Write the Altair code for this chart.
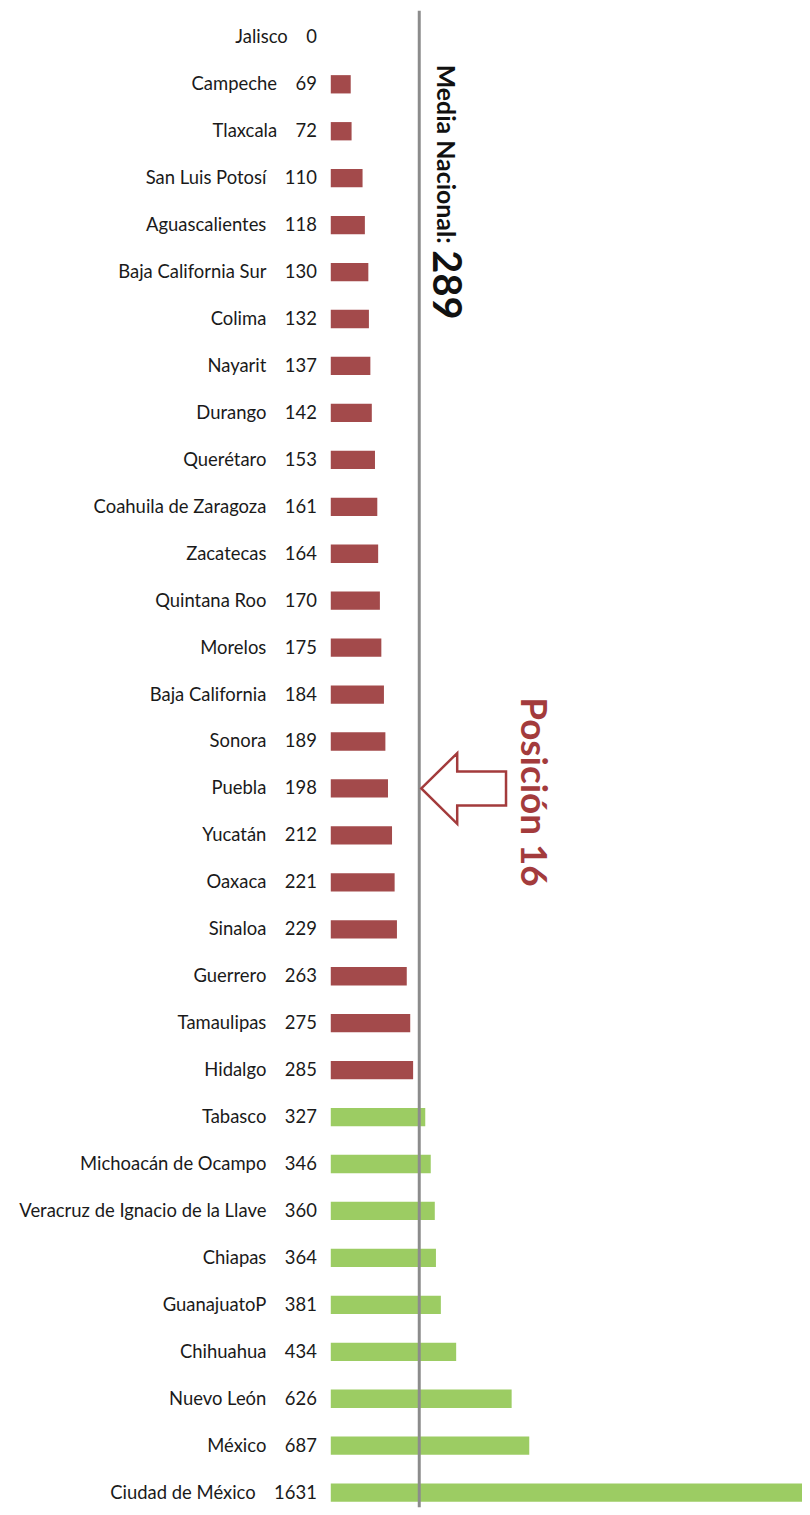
import altair as alt
import pandas as pd

states = ["Jalisco", "Campeche", "Tlaxcala", "San Luis Potosí", "Aguascalientes",
          "Baja California Sur", "Colima", "Nayarit", "Durango", "Querétaro",
          "Coahuila de Zaragoza", "Zacatecas", "Quintana Roo", "Morelos",
          "Baja California", "Sonora", "Puebla", "Yucatán", "Oaxaca", "Sinaloa",
          "Guerrero", "Tamaulipas", "Hidalgo", "Tabasco", "Michoacán de Ocampo",
          "Veracruz de Ignacio de la Llave", "Chiapas", "GuanajuatoP", "Chihuahua",
          "Nuevo León", "México", "Ciudad de México"]
values = [0, 69, 72, 110, 118, 130, 132, 137, 142, 153, 161, 164, 170, 175, 184,
          189, 198, 212, 221, 229, 263, 275, 285, 327, 346, 360, 364, 381, 434,
          626, 687, 1631]
mean_value = 289
highlight_state = "Puebla"

RED = "#A34A4B"
GREEN = "#9CCC63"
DARKRED = "#A33B3C"

df = pd.DataFrame({"state": states, "value": values})
df["group"] = ["below" if v < mean_value else "above" for v in values]
df["label"] = [f"{s}\u2002\u2002{v}" for s, v in zip(states, values)]

W, H = 473, 1498

x_scale = alt.Scale(domain=[0, 1631], nice=False, zero=False)
y_scale = alt.Scale(domain=states, paddingInner=0.61, paddingOuter=0.2)

base = alt.Chart(df)

bars = base.mark_bar().encode(
    x=alt.X("value:Q", scale=x_scale, axis=None),
    y=alt.Y("state:N", scale=y_scale, axis=None, sort=states),
    color=alt.Color("group:N", scale=alt.Scale(domain=["below", "above"], range=[RED, GREEN]), legend=None),
)

labels = base.mark_text(align="right", baseline="middle", dx=-14, fontSize=18.5,
                        font="Lato", color="#1a1a1a").encode(
    x=alt.value(0),
    y=alt.Y("state:N", scale=y_scale, axis=None, sort=states),
    text="label:N",
)

rule_df = pd.DataFrame({"mean": [mean_value]})
rule = alt.Chart(rule_df).mark_rule(color="#8C8C8C", strokeWidth=3, xOffset=5).encode(
    x=alt.X("mean:Q", scale=x_scale, axis=None),
    y=alt.value(-8),
    y2=alt.value(H - 4),
)

media_df = pd.DataFrame({"x": [396], "t1": ["Media Nacional:"], "t2": [str(mean_value)]})
media1 = alt.Chart(media_df).mark_text(angle=90, align="left", baseline="middle",
                                       font="Lato", fontWeight="bold", fontSize=25,
                                       color="#111111").encode(
    x=alt.X("x:Q", scale=x_scale, axis=None), y=alt.value(46), text="t1:N")
media2 = alt.Chart(media_df).mark_text(angle=90, align="right", baseline="middle",
                                       font="Lato", fontWeight="bold", fontSize=40,
                                       color="#111111").encode(
    x=alt.X("x:Q", scale=x_scale, axis=None), y=alt.value(302), text="t2:N")

pos_df = pd.DataFrame({"x": [695], "t": ["Posición 16"]})
pos_text = alt.Chart(pos_df).mark_text(angle=90, align="left", baseline="middle",
                                       font="Lato", fontWeight="bold", fontSize=37,
                                       color=DARKRED).encode(
    x=alt.X("x:Q", scale=x_scale, axis=None), y=alt.value(681), text="t:N")

arrow_path = "M -1 0 L -0.153 -0.835 L -0.153 -0.4 L 1 -0.4 L 1 0.4 L -0.153 0.4 L -0.153 0.835 Z"
arrow_df = pd.DataFrame({"x": [460], "state": [highlight_state]})
arrow = alt.Chart(arrow_df).mark_point(shape=arrow_path, size=7225, filled=True,
                                       fill="white", stroke=DARKRED, strokeWidth=2.5,
                                       opacity=1).encode(
    x=alt.X("x:Q", scale=x_scale, axis=None),
    y=alt.Y("state:N", scale=y_scale, sort=states, axis=None),
)

chart = alt.layer(bars, labels, rule, media1, media2, arrow, pos_text).properties(
    width=W, height=H,
    background="white",
    padding={"left": 324, "top": 8, "right": 0, "bottom": 0},
    autosize=alt.AutoSizeParams(type="none"),
).configure_view(strokeWidth=0, stroke=None)

chart.save("out.html", embed_options={"renderer": "svg", "actions": False})
